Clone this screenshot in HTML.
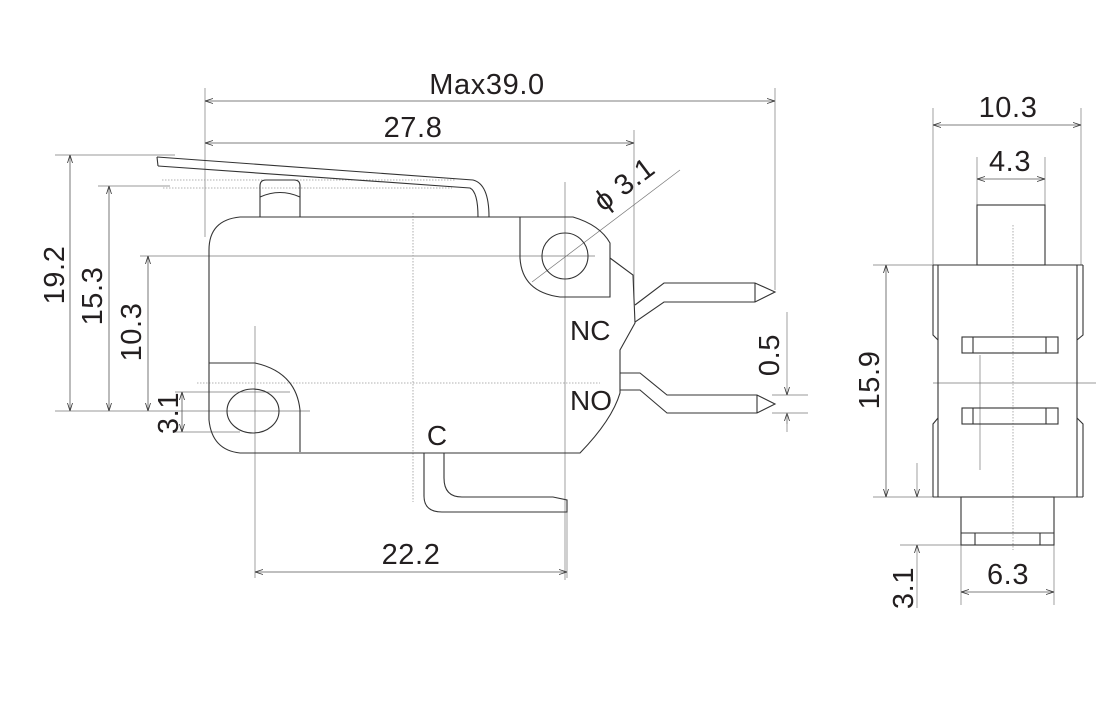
<!DOCTYPE html>
<html><head><meta charset="utf-8"><style>
html,body{margin:0;padding:0;background:#fff;}
svg{display:block;}
text{font-family:"Liberation Sans",Arial,sans-serif;fill:#231f20;}
</style></head><body>
<svg width="1120" height="722" viewBox="0 0 1120 722" xmlns="http://www.w3.org/2000/svg">
<defs>
<marker id="a" markerWidth="8" markerHeight="6" refX="8" refY="3" orient="auto-start-reverse" markerUnits="userSpaceOnUse"><path d="M0,0.5 L8,3 L0,5.5" fill="none" stroke="#333" stroke-width="0.8"/></marker>
</defs>
<g fill="none" stroke="#444" stroke-width="0.8">
<g stroke="#777" stroke-width="0.7">
<line x1="205" y1="88" x2="205" y2="237"/>
<line x1="775" y1="88" x2="775" y2="290"/>
<line x1="634" y1="130" x2="634" y2="300"/>
<line x1="55" y1="155" x2="175" y2="155"/>
<line x1="55" y1="411" x2="310" y2="411"/>
<line x1="98" y1="186" x2="170" y2="186"/>
<line x1="140" y1="256" x2="595" y2="256"/>
<line x1="565" y1="182" x2="565" y2="580"/>
<line x1="255" y1="326" x2="255" y2="578"/>
<line x1="175" y1="392" x2="290" y2="392"/>
<line x1="175" y1="432" x2="240" y2="432"/>
<line x1="532" y1="282" x2="680" y2="170"/>
<line x1="772" y1="395" x2="808" y2="395"/>
<line x1="772" y1="413" x2="808" y2="413"/>
<line x1="787" y1="312" x2="787" y2="395" marker-end="url(#a)"/>
<line x1="787" y1="424" x2="787" y2="413" marker-end="url(#a)"/>
<line x1="787" y1="413" x2="787" y2="432"/>
<line x1="933" y1="108" x2="933" y2="265"/>
<line x1="1081" y1="108" x2="1081" y2="265"/>
<line x1="977" y1="157" x2="977" y2="205"/>
<line x1="1045" y1="157" x2="1045" y2="205"/>
<line x1="873" y1="265" x2="933" y2="265"/>
<line x1="873" y1="497" x2="933" y2="497"/>
<line x1="900" y1="545" x2="961" y2="545"/>
<line x1="961" y1="545" x2="961" y2="605"/>
<line x1="1054" y1="545" x2="1054" y2="605"/>
<line x1="917" y1="463" x2="917" y2="497" marker-end="url(#a)"/>
<line x1="917" y1="608" x2="917" y2="545" marker-end="url(#a)"/>
<line x1="933" y1="383" x2="1096" y2="383"/>
<line x1="980" y1="355" x2="980" y2="470"/>
<line x1="567" y1="500" x2="567" y2="578"/>
</g>
<g stroke="#555" stroke-width="0.8">
<line x1="205" y1="101" x2="775" y2="101" marker-start="url(#a)" marker-end="url(#a)"/>
<line x1="205" y1="143" x2="634" y2="143" marker-start="url(#a)" marker-end="url(#a)"/>
<line x1="70" y1="155" x2="70" y2="411" marker-start="url(#a)" marker-end="url(#a)"/>
<line x1="109" y1="186" x2="109" y2="411" marker-start="url(#a)" marker-end="url(#a)"/>
<line x1="148" y1="256" x2="148" y2="411" marker-start="url(#a)" marker-end="url(#a)"/>
<line x1="182" y1="392" x2="182" y2="432" marker-start="url(#a)" marker-end="url(#a)"/>
<line x1="255" y1="572" x2="567" y2="572" marker-start="url(#a)" marker-end="url(#a)"/>
<line x1="933" y1="125" x2="1081" y2="125" marker-start="url(#a)" marker-end="url(#a)"/>
<line x1="977" y1="179" x2="1045" y2="179" marker-start="url(#a)" marker-end="url(#a)"/>
<line x1="886" y1="265" x2="886" y2="497" marker-start="url(#a)" marker-end="url(#a)"/>
<line x1="961" y1="592" x2="1054" y2="592" marker-start="url(#a)" marker-end="url(#a)"/>
</g>
<g stroke="#999" stroke-width="0.8" stroke-dasharray="1.5,1.5">
<line x1="413" y1="213" x2="413" y2="502"/>
<line x1="197" y1="383" x2="600" y2="383"/>
<line x1="162" y1="180" x2="455" y2="180"/>
<line x1="163" y1="188" x2="452" y2="188"/>
<line x1="1013" y1="225" x2="1013" y2="550"/>
</g>
<g stroke="#333" stroke-width="1.1">
<path d="M240,217 L520,217 M520,217 L573,217 Q600,225 610,243 L610,297 L560,297 Q522,292 520,258 L520,217"/>
<path d="M240,217 Q209,220 209,250 L209,420 Q212,450 240,453 L580,453 Q612,420 620,393 L620,350 L635,323 L633,275 L610,258"/>
<path d="M209,363 L255,363 Q296,372 300,410 L300,452"/>
<ellipse cx="565" cy="256" rx="23" ry="23"/>
<ellipse cx="253" cy="411" rx="26" ry="22"/>
<path d="M157,157 L473,180 Q489,184 489,217"/>
<path d="M158,166 L470,188 Q478,192 478,217"/>
<path d="M157,157 L158,166"/>
<path d="M260,217 L260,186 Q260,180 266,180 L294,180 Q300,180 300,186 L300,217"/>
<path d="M260,197 Q280,188 300,197"/>
<path d="M635,305 L664,283 L755,283 L775,292 L755,302 L664,302 L635,322"/>
<line x1="755" y1="283" x2="755" y2="302"/>
<path d="M620,373 L640,373 L667,395 L757,395 L775,404 L757,413 L667,413 L640,390 L620,390"/>
<line x1="757" y1="395" x2="757" y2="413"/>
<path d="M424,453 L424,496 Q424,512 442,512 L567,512 L567,500 L553,497 L462,497 Q444,497 444,478 L444,453"/>
</g>
<g stroke="#333" stroke-width="1.1">
<rect x="977" y="205" width="68" height="60"/>
<path d="M933,265 L1083,265 M933,497 L1083,497"/>
<path d="M933,265 L933,335 L938,340 M938,418 L933,424 L933,497"/>
<path d="M1083,265 L1083,335 L1077,340 M1077,418 L1083,424 L1083,497"/>
<line x1="938" y1="265" x2="938" y2="497"/>
<line x1="1077" y1="265" x2="1077" y2="497"/>
<rect x="962" y="337" width="96" height="16"/>
<line x1="973" y1="337" x2="973" y2="353"/><line x1="1046" y1="337" x2="1046" y2="353"/>
<rect x="962" y="408" width="96" height="16"/>
<line x1="973" y1="408" x2="973" y2="424"/><line x1="1046" y1="408" x2="1046" y2="424"/>
<rect x="961" y="497" width="93" height="48"/>
<line x1="961" y1="533" x2="1054" y2="533"/>
<line x1="975" y1="533" x2="975" y2="545"/><line x1="1040" y1="533" x2="1040" y2="545"/>
</g>
</g>
<g font-size="29" letter-spacing="0.6">
<text x="487" y="94" text-anchor="middle">Max39.0</text>
<text x="413" y="137" text-anchor="middle">27.8</text>
<text x="411" y="564" text-anchor="middle">22.2</text>
<text x="1008" y="117" text-anchor="middle">10.3</text>
<text x="1010" y="171" text-anchor="middle">4.3</text>
<text x="1008" y="584" text-anchor="middle">6.3</text>
<text transform="translate(64,275) rotate(-90)" text-anchor="middle">19.2</text>
<text transform="translate(102,296) rotate(-90)" text-anchor="middle">15.3</text>
<text transform="translate(141,332) rotate(-90)" text-anchor="middle">10.3</text>
<text transform="translate(178,413) rotate(-90)" text-anchor="middle">3.1</text>
<text transform="translate(779,355) rotate(-90)" text-anchor="middle">0.5</text>
<text transform="translate(879,380) rotate(-90)" text-anchor="middle">15.9</text>
<text transform="translate(913,588) rotate(-90)" text-anchor="middle">3.1</text>
<text transform="translate(630,192) rotate(-37)" text-anchor="middle">ϕ 3.1</text>
<text x="570" y="340" font-size="28" letter-spacing="0">NC</text>
<text x="570" y="410" font-size="28" letter-spacing="0">NO</text>
<text x="437" y="445" text-anchor="middle" font-size="28" letter-spacing="0">C</text>
</g>
</svg>
</body></html>
